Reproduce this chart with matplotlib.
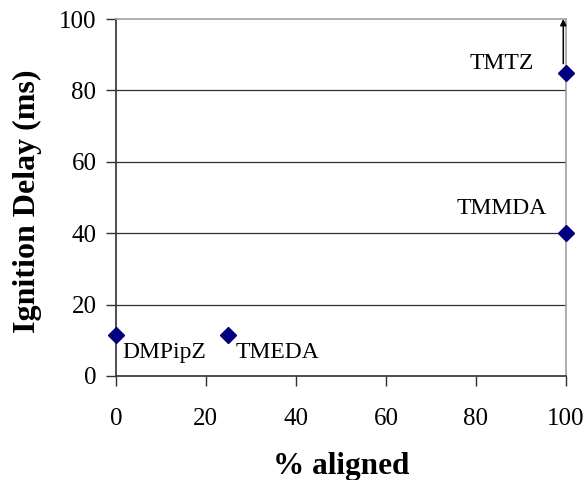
import matplotlib.pyplot as plt

# Dados
compostos = ['DMPipZ', 'TMEDA', 'TMMDA', 'TMTZ']
alinhado = [0, 25, 100, 100]
atraso = [11.5, 11.5, 40, 85]
# posições dos rótulos (coordenadas de dados)
rotulo_x = [10.7, 35.8, 85.8, 85.8]
rotulo_y = [6.7, 6.7, 47, 87.5]

plt.rcParams['font.family'] = ['Liberation Serif', 'DejaVu Serif']

fig = plt.figure(figsize=(5.85, 4.8), dpi=100)
ax = fig.add_axes([0.198, 0.2167, 0.7695, 0.7437])

ax.set_xlim(0, 100)
ax.set_ylim(0, 100)
ax.set_xticks([0, 20, 40, 60, 80, 100])
ax.set_yticks([0, 20, 40, 60, 80, 100])

# linhas de grade horizontais
for y in [20, 40, 60, 80]:
    ax.axhline(y, color='#303030', linewidth=0.9, zorder=1)

for lado in ['top', 'right']:
    ax.spines[lado].set_color('#a0a0a0')
    ax.spines[lado].set_linewidth(1.2)
for lado in ['left', 'bottom']:
    ax.spines[lado].set_color('#303030')
    ax.spines[lado].set_linewidth(1.2)

ax.tick_params(direction='out', length=7, width=1, color='#303030',
               labelsize=18)
ax.tick_params(axis='x', pad=16)
ax.tick_params(axis='y', pad=7)

ax.plot(alinhado, atraso, linestyle='none', marker='D', markersize=8,
        color='#000080', zorder=5, clip_on=False)

# seta indicando atraso > 100 ms para TMTZ
ax.annotate('', xy=(99.4, 100), xytext=(99.4, 87.5),
            arrowprops=dict(arrowstyle='-|>', color='black', lw=1.1,
                            mutation_scale=9, shrinkA=0, shrinkB=0),
            zorder=4)

for nome, x, y in zip(compostos, rotulo_x, rotulo_y):
    ax.text(x, y, nome, ha='center', va='center', fontsize=17)

ax.set_xlabel('% aligned', fontsize=22.5, fontweight='bold')
ax.set_ylabel('Ignition Delay (ms)', fontsize=23, fontweight='bold')
ax.xaxis.set_label_coords(0.5, -0.212)
ax.yaxis.set_label_coords(-0.164, 0.49)

fig.savefig('out.png', dpi=100)
